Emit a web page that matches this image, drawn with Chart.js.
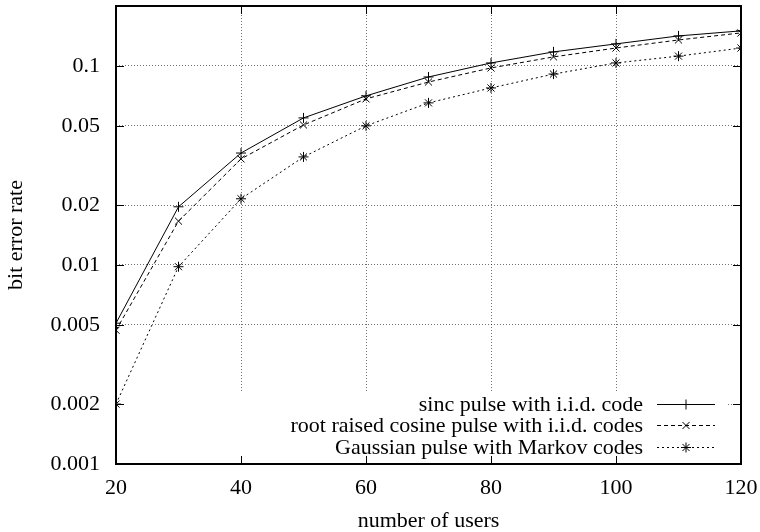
<!DOCTYPE html>
<html><head><meta charset="utf-8">
<script src="https://cdn.jsdelivr.net/npm/chart.js@4/dist/chart.umd.min.js"></script>
<style>html,body{margin:0;padding:0;background:#fff;}canvas{display:block}</style>
</head><body>
<canvas id="c" width="760" height="532"></canvas>
<script>
const users = [20, 30, 40, 50, 60, 70, 80, 90, 100, 110, 120];
const sincIid = [0.0051, 0.0196, 0.0365, 0.0548, 0.0707, 0.088, 0.1035, 0.1176, 0.129, 0.1415, 0.150];
const rrcIid = [0.0047, 0.0166, 0.0341, 0.0505, 0.0683, 0.083, 0.0977, 0.111, 0.123, 0.135, 0.1465];
const gaussMarkov = [0.002, 0.0098, 0.0215, 0.0349, 0.05, 0.0652, 0.0775, 0.091, 0.1035, 0.112, 0.123];
const yTicks = [0.001, 0.002, 0.005, 0.01, 0.02, 0.05, 0.1];
const xTicks = [20, 40, 60, 80, 100, 120];
const seriesNames = ['sinc pulse with i.i.d. code', 'root raised cosine pulse with i.i.d. codes', 'Gaussian pulse with Markov codes'];
const xTitle = 'number of users';
const yTitle = 'bit error rate';

const FONT = "'Liberation Serif', 'Times New Roman', serif";
const FS = 22;
const pts = arr => users.map((u, i) => ({x: u, y: arr[i]}));

const gnuplotDeco = {
  id: 'gnuplotDeco',
  beforeDatasetsDraw(chart) {
    const ctx = chart.ctx, a = chart.chartArea;
    const xs = chart.scales.x, ys = chart.scales.y;
    ctx.save();
    ctx.fillStyle = '#fff';
    ctx.fillRect(a.left + 1, a.bottom - 72, (a.right - 14) - (a.left + 1), 70);
    ctx.strokeStyle = '#000';
    ctx.lineWidth = 1;
    ctx.beginPath();
    xTicks.forEach(v => {
      const px = Math.round(xs.getPixelForValue(v)) + 0.5;
      ctx.moveTo(px, a.bottom); ctx.lineTo(px, a.bottom - 8);
      ctx.moveTo(px, a.top); ctx.lineTo(px, a.top + 8);
    });
    yTicks.forEach(v => {
      const py = Math.round(ys.getPixelForValue(v)) + 0.5;
      ctx.moveTo(a.left, py); ctx.lineTo(a.left + 8, py);
      ctx.moveTo(a.right, py); ctx.lineTo(a.right - 8, py);
    });
    ctx.stroke();
    ctx.lineWidth = 2;
    ctx.strokeRect(a.left, a.top, a.right - a.left, a.bottom - a.top);
    ctx.restore();
  },
  afterDatasetsDraw(chart) {
    const ctx = chart.ctx, a = chart.chartArea;
    ctx.save();
    ctx.font = FS + "px " + FONT;
    ctx.fillStyle = '#000';
    ctx.textAlign = 'right';
    ctx.textBaseline = 'middle';
    const rows = [a.bottom - 60, a.bottom - 39, a.bottom - 17];
    chart.data.datasets.forEach((ds, i) => {
      const y = rows[i];
      ctx.fillText(ds.label, a.right - 98, y + 1);
      ctx.strokeStyle = ds.borderColor;
      ctx.lineWidth = ds.borderWidth;
      ctx.setLineDash(ds.borderDash || []);
      ctx.beginPath();
      ctx.moveTo(a.right - 84, y + 0.5); ctx.lineTo(a.right - 26, y + 0.5);
      ctx.stroke();
      ctx.setLineDash([]);
      Chart.helpers.drawPoint(ctx, {pointStyle: ds.pointStyle, radius: ds.pointRadius, borderWidth: 1, rotation: 0}, a.right - 55, y + 0.5);
    });
    ctx.restore();
  }
};

const common = {borderColor: '#000', backgroundColor: '#000', borderWidth: 1, pointRadius: 5, pointBorderWidth: 1, fill: false, tension: 0};

new Chart(document.getElementById('c'), {
  type: 'line',
  data: {
    datasets: [
      Object.assign({label: seriesNames[0], data: pts(sincIid), pointStyle: 'cross', borderDash: []}, common),
      Object.assign({label: seriesNames[1], data: pts(rrcIid), pointStyle: 'crossRot', borderDash: [4, 3]}, common),
      Object.assign({label: seriesNames[2], data: pts(gaussMarkov), pointStyle: 'star', borderDash: [2, 3]}, common)
    ]
  },
  options: {
    responsive: false,
    animation: false,
    devicePixelRatio: 1,
    layout: {padding: {top: 6, right: 19, left: 0, bottom: 0}},
    plugins: {legend: {display: false}, tooltip: {enabled: false}},
    scales: {
      x: {
        type: 'linear', min: 20, max: 120,
        afterBuildTicks: s => { s.ticks = xTicks.map(v => ({value: v})); },
        afterFit: s => { s.height = 68; s.paddingLeft = 0; s.paddingRight = 0; s.paddingTop = 0; s.paddingBottom = 0; },
        ticks: {font: {family: FONT, size: FS}, color: '#000', padding: 11, maxRotation: 0, callback: v => String(v)},
        grid: {color: 'rgba(0,0,0,0.55)', lineWidth: 1, drawTicks: false},
        border: {display: false, dash: [1, 2]},
        title: {display: true, text: xTitle, font: {family: FONT, size: FS, lineHeight: 1}, color: '#000', padding: {top: 0, bottom: 0}}
      },
      y: {
        type: 'logarithmic', min: 0.001, max: 0.2,
        afterBuildTicks: s => { s.ticks = yTicks.map(v => ({value: v})); },
        afterFit: s => { s.width = 116; s.paddingLeft = 0; s.paddingRight = 0; s.paddingTop = 0; s.paddingBottom = 0; },
        ticks: {font: {family: FONT, size: FS}, color: '#000', padding: 16, callback: v => String(v)},
        grid: {color: 'rgba(0,0,0,0.55)', lineWidth: 1, drawTicks: false},
        border: {display: false, dash: [1, 2]},
        title: {display: true, text: yTitle, font: {family: FONT, size: FS, lineHeight: 1}, color: '#000', padding: {top: 5, bottom: 0}}
      }
    }
  },
  plugins: [gnuplotDeco]
});
</script>
</body></html>
